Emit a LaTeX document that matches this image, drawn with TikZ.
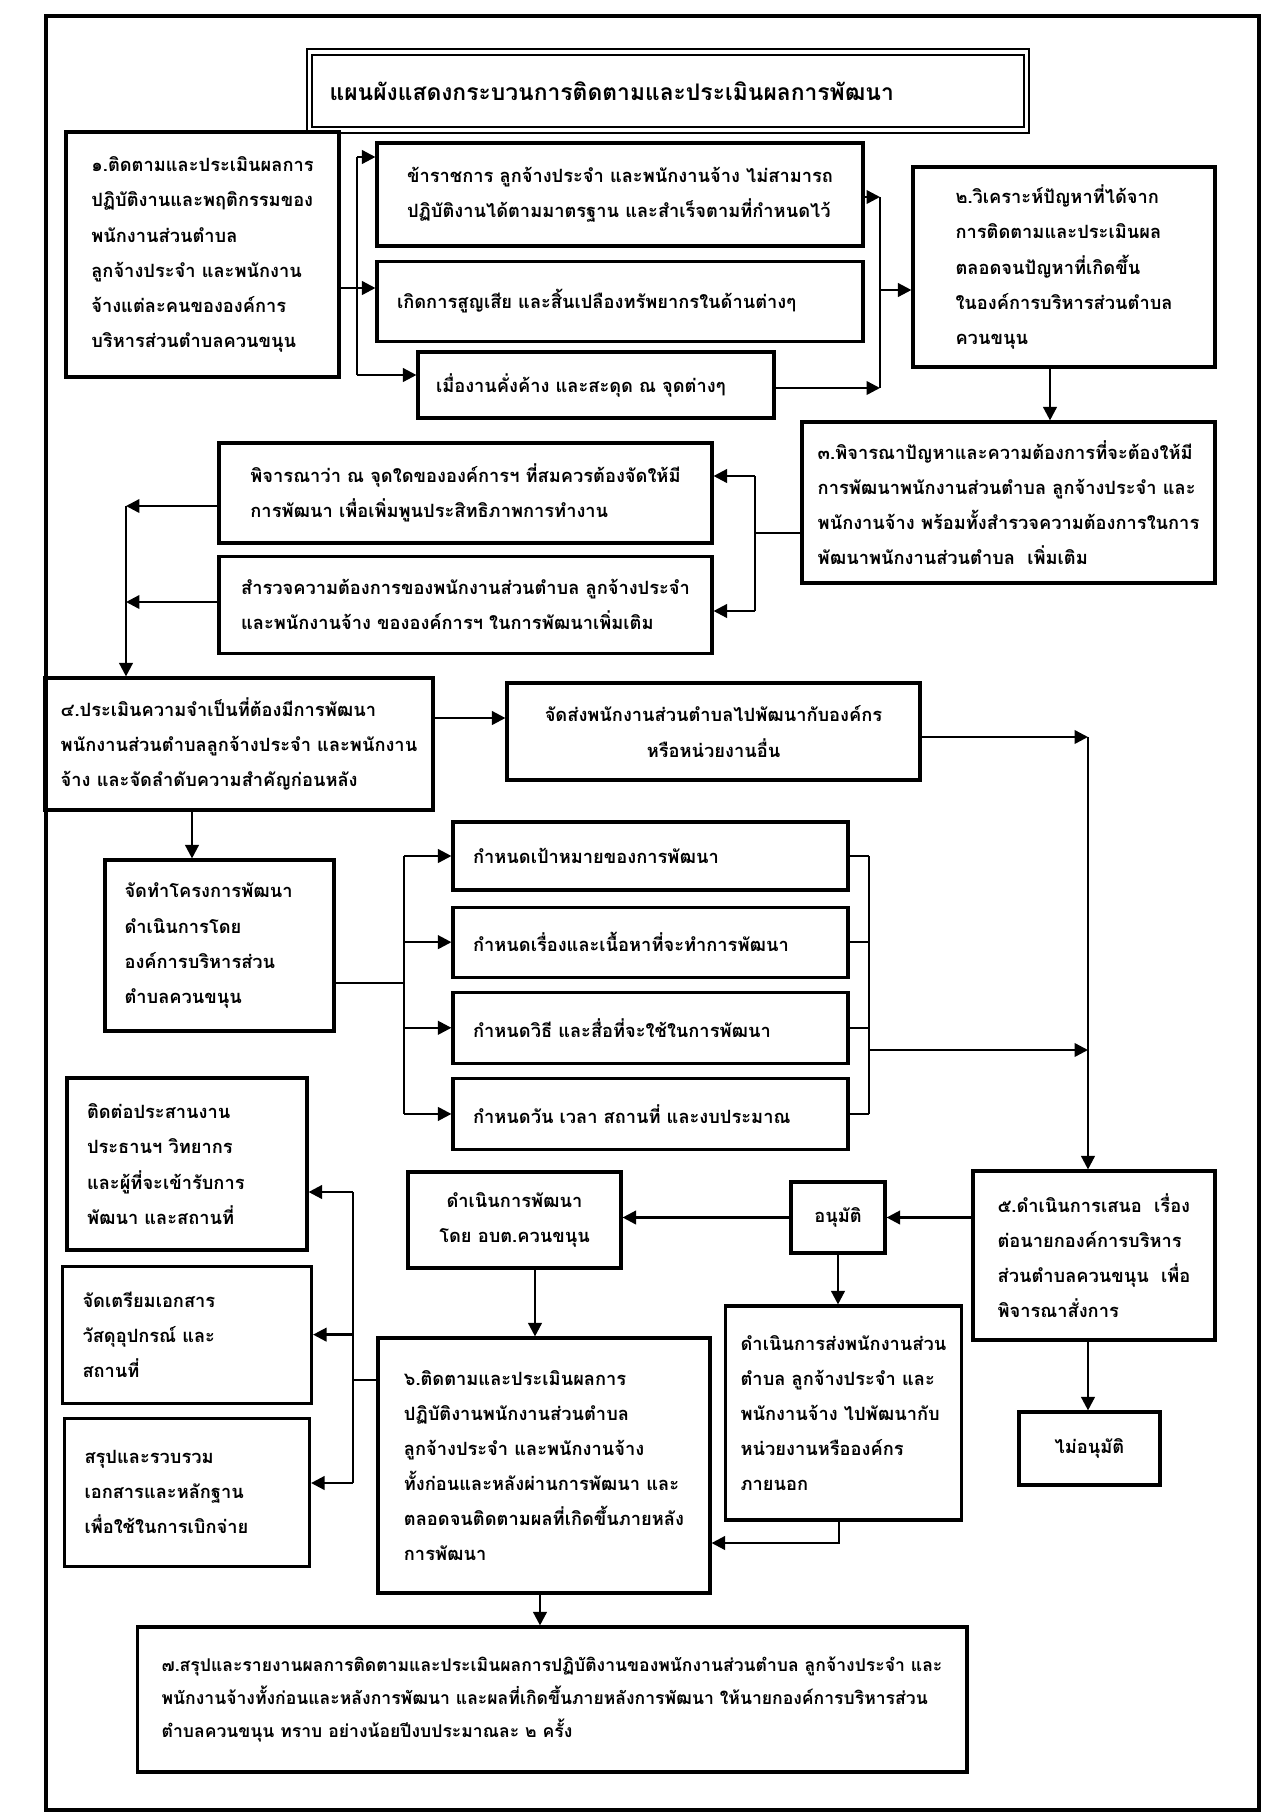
\documentclass[tikz,border=0pt]{standalone}
\usepackage{fontspec}
\newfontfamily\thai[Script=Thai]{Loma}
\usetikzlibrary{arrows.meta}
\usetikzlibrary{positioning}

\begin{document}
\begin{tikzpicture}[x=0.02cm,y=-0.02cm,
  every node/.style={draw,line width=1.8pt,inner sep=0.3cm,align=left,font=\thai\bfseries\fontsize{10.4}{20}\selectfont},
  arr/.style={line width=1.4pt,-{Triangle[length=0.27cm,width=0.27cm]}},
  link/.style={line width=1.4pt}]
\useasboundingbox (0,0) rectangle (1268,1816);
\draw[line width=2.4pt] (46,16) rectangle (1259,1810);

\node[minimum width=14.34cm,minimum height=1.56cm,double,double distance=2pt,line width=1.2pt,inner xsep=0.4cm,text width=13.54cm,
  font=\thai\bfseries\fontsize{13}{18}\selectfont] (title) at (668,91) {แผนผังแสดงกระบวนการติดตามและประเมินผลการพัฒนา};

\node[minimum width=5.46cm,minimum height=4.90cm] (s1) at (202.5,254.5) {๑.ติดตามและประเมินผลการ\\ปฏิบัติงานและพฤติกรรมของ\\พนักงานส่วนตำบล\\ลูกจ้างประจำ และพนักงาน\\จ้างแต่ละคนขององค์การ\\บริหารส่วนตำบลควนขนุน};
\node[minimum width=9.72cm,minimum height=2.06cm] (a1) at (620,194.5) {ข้าราชการ ลูกจ้างประจำ และพนักงานจ้าง ไม่สามารถ\\ปฏิบัติงานได้ตามมาตรฐาน และสำเร็จตามที่กำหนดไว้};
\node[minimum width=9.72cm,minimum height=1.60cm,text width=8.92cm,below=0.24cm of a1] (a2) {เกิดการสูญเสีย และสิ้นเปลืองทรัพยากรในด้านต่างๆ};
\node[minimum width=7.12cm,minimum height=1.32cm,text width=6.40cm] (a3) at (596,385) {เมื่องานคั่งค้าง และสะดุด ณ จุดต่างๆ};
\node[minimum width=6.04cm,minimum height=4.00cm] (s2) at (1064,267) {๒.วิเคราะห์ปัญหาที่ได้จาก\\การติดตามและประเมินผล\\ตลอดจนปัญหาที่เกิดขึ้น\\ในองค์การบริหารส่วนตำบล\\ควนขนุน};
\node[minimum width=8.26cm,minimum height=3.22cm] (s3) at (1008.5,502.5) {๓.พิจารณาปัญหาและความต้องการที่จะต้องให้มี\\การพัฒนาพนักงานส่วนตำบล ลูกจ้างประจำ และ\\พนักงานจ้าง พร้อมทั้งสำรวจความต้องการในการ\\พัฒนาพนักงานส่วนตำบล\ \ เพิ่มเติม};
\node[minimum width=9.86cm,minimum height=2.00cm] (pa) at (465.5,493) {พิจารณาว่า ณ จุดใดขององค์การฯ ที่สมควรต้องจัดให้มี\\การพัฒนา เพื่อเพิ่มพูนประสิทธิภาพการทำงาน};
\node[minimum width=9.86cm,minimum height=1.94cm,below=0.2cm of pa] (pb) {สำรวจความต้องการของพนักงานส่วนตำบล ลูกจ้างประจำ\\และพนักงานจ้าง ขององค์การฯ ในการพัฒนาเพิ่มเติม};
\node[minimum width=7.76cm,minimum height=2.64cm] (s4) at (239,744) {๔.ประเมินความจำเป็นที่ต้องมีการพัฒนา\\พนักงานส่วนตำบลลูกจ้างประจำ และพนักงาน\\จ้าง และจัดลำดับความสำคัญก่อนหลัง};
\node[minimum width=8.26cm,minimum height=1.94cm,align=center] (send) at (713.5,731.5) {จัดส่งพนักงานส่วนตำบลไปพัฒนากับองค์กร\\หรือหน่วยงานอื่น};
\node[minimum width=4.58cm,minimum height=3.42cm,text width=3.80cm] (proj) at (219.5,945.5) {จัดทำโครงการพัฒนา\\ดำเนินการโดย\\องค์การบริหารส่วน\\ตำบลควนขนุน};
\node[minimum width=7.90cm,minimum height=1.36cm,text width=7.10cm] (e1) at (650.5,856) {กำหนดเป้าหมายของการพัฒนา};
\node[minimum width=7.90cm,minimum height=1.40cm,text width=7.10cm,below=0.28cm of e1] (e2) {กำหนดเรื่องและเนื้อหาที่จะทำการพัฒนา};
\node[minimum width=7.90cm,minimum height=1.42cm,text width=7.10cm,below=0.24cm of e2] (e3) {กำหนดวิธี และสื่อที่จะใช้ในการพัฒนา};
\node[minimum width=7.90cm,minimum height=1.42cm,text width=7.10cm,below=0.24cm of e3] (e4) {กำหนดวัน เวลา สถานที่ และงบประมาณ};
\node[minimum width=4.84cm,minimum height=3.38cm] (s5) at (1094,1255.5) {๕.ดำเนินการเสนอ\ \ เรื่อง\\ต่อนายกองค์การบริหาร\\ส่วนตำบลควนขนุน\ \ เพื่อ\\พิจารณาสั่งการ};
\node[minimum width=1.88cm,minimum height=1.42cm,align=center] (ok) at (838,1217.5) {อนุมัติ};
\node[minimum width=4.26cm,minimum height=1.92cm,align=center] (run) at (514.5,1220) {ดำเนินการพัฒนา\\โดย อบต.ควนขนุน};
\node[minimum width=4.70cm,minimum height=4.28cm] (out) at (843.5,1413) {ดำเนินการส่งพนักงานส่วน\\ตำบล ลูกจ้างประจำ และ\\พนักงานจ้าง ไปพัฒนากับ\\หน่วยงานหรือองค์กร\\ภายนอก};
\node[minimum width=2.82cm,minimum height=1.46cm,align=center] (no) at (1089.5,1448.5) {ไม่อนุมัติ};
\node[minimum width=6.64cm,minimum height=5.10cm] (s6) at (544,1465.5) {๖.ติดตามและประเมินผลการ\\ปฏิบัติงานพนักงานส่วนตำบล\\ลูกจ้างประจำ และพนักงานจ้าง\\ทั้งก่อนและหลังผ่านการพัฒนา และ\\ตลอดจนติดตามผลที่เกิดขึ้นภายหลัง\\การพัฒนา};
\node[minimum width=4.80cm,minimum height=3.44cm,text width=4.00cm] (h1) at (187,1164) {ติดต่อประสานงาน\\ประธานฯ วิทยากร\\และผู้ที่จะเข้ารับการ\\พัฒนา และสถานที่};
\node[minimum width=4.98cm,minimum height=2.74cm,text width=4.18cm,below=0.26cm of h1] (h2) {จัดเตรียมเอกสาร\\วัสดุอุปกรณ์ และ\\สถานที่};
\node[minimum width=4.90cm,minimum height=2.96cm,text width=4.10cm,below=0.24cm of h2] (h3) {สรุปและรวบรวม\\เอกสารและหลักฐาน\\เพื่อใช้ในการเบิกจ่าย};
\node[minimum width=16.60cm,minimum height=2.90cm,font=\thai\bfseries\fontsize{10}{19}\selectfont] (s7) at (552,1699.5) {๗.สรุปและรายงานผลการติดตามและประเมินผลการปฏิบัติงานของพนักงานส่วนตำบล ลูกจ้างประจำ และ\\พนักงานจ้างทั้งก่อนและหลังการพัฒนา และผลที่เกิดขึ้นภายหลังการพัฒนา ให้นายกองค์การบริหารส่วน\\ตำบลควนขนุน ทราบ อย่างน้อยปีงบประมาณละ ๒ ครั้ง};

% step 1 out to the problems
\coordinate (j1) at (357,157);
\coordinate (j2) at (357,288);
\coordinate (j3) at (357,375);
\draw[link] (j1) -- (j3);
\draw[arr] (s1.east |- j2) -- (a2.west |- j2);
\draw[arr] (j1) -- (a1.west |- j1);
\draw[arr] (j3) -- (a3.west |- j3);

% problems into step 2
\coordinate (j4) at (880,197);
\coordinate (j5) at (880,290);
\coordinate (j6) at (880,388);
\draw[arr] (a1.east |- j4) -- (j4);
\draw[arr] (a3.east |- j6) -- (j6);
\draw[link] (j4) -- (j6);
\draw[arr] (j5) -- (s2.west |- j5);
\coordinate (j7) at (1050,400);
\draw[arr] (s2.south -| j7) -- (s3.north -| j7);

% step 3 to the two checks
\coordinate (j8) at (755,476);
\coordinate (j9) at (755,533);
\coordinate (j10) at (755,611);
\draw[link] (s3.west |- j9) -- (j9);
\draw[link] (j8) -- (j10);
\draw[arr] (j8) -- (pa.east |- j8);
\draw[arr] (j10) -- (pb.east |- j10);

% checks down to step 4
\coordinate (j11) at (126,506);
\coordinate (j12) at (126,602);
\draw[arr] (pa.west |- j11) -- (j11);
\draw[arr] (pb.west |- j12) -- (j12);
\draw[arr] (j11) -- (s4.north -| j11);

% step 4
\coordinate (j13) at (470,718);
\coordinate (j14) at (192,840);
\draw[arr] (s4.east |- j13) -- (send.west |- j13);
\draw[arr] (s4.south -| j14) -- (proj.north -| j14);

% right main line down to step 5
\coordinate (j15) at (1088,737);
\coordinate (j16) at (1088,1050);
\coordinate (j17) at (869,1050);
\draw[arr] (send.east |- j15) -- (j15);
\draw[arr] (j15) -- (s5.north -| j15);

% project to the four tasks
\coordinate (j18) at (404,983);
\draw[link] (proj.east |- j18) -- (j18);
\draw[link] (e1.west -| j18) -- (e4.west -| j18);
\foreach \e in {e1,e2,e3,e4} \draw[arr] (\e.west -| j18) -- (\e.west);
\foreach \e in {e1,e2,e3,e4} \draw[link] (\e.east) -- (\e.east -| j17);
\draw[link] (e1.east -| j17) -- (e4.east -| j17);
\draw[arr] (j17) -- (j16);

% step 5
\draw[arr] (s5.west |- ok.east) -- (ok.east);
\draw[arr] (ok.west) -- (run.east |- ok.west);
\draw[arr] (ok.south) -- (out.north -| ok.south);
\draw[arr] (s5.south -| j15) -- (no.north -| j15);

% into step 6
\coordinate (j19) at (535,1300);
\coordinate (j20) at (839,1543);
\draw[arr] (run.south -| j19) -- (s6.north -| j19);
\draw[arr] (out.south -| j20) |- (s6.east |- j20);

% step 6 to the three tasks
\coordinate (j21) at (353,1380);
\coordinate (j22) at (353,1192);
\coordinate (j23) at (353,1483);
\draw[link] (s6.west |- j21) -- (j21);
\draw[link] (j22) -- (j23);
\draw[arr] (j22) -- (h1.east |- j22);
\draw[arr] (h2.east -| j22) -- (h2.east);
\draw[arr] (j23) -- (h3.east |- j23);

\coordinate (j24) at (540,1600);
\draw[arr] (s6.south -| j24) -- (s7.north -| j24);
\end{tikzpicture}
\end{document}
